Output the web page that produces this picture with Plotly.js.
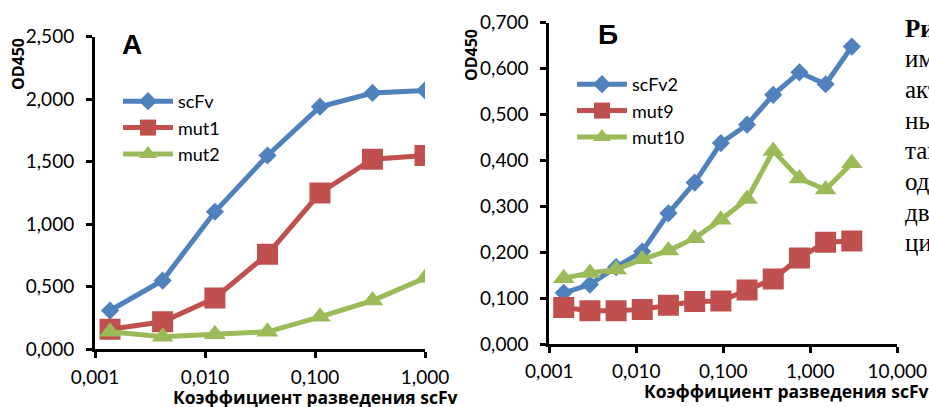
<!DOCTYPE html>
<html><head><meta charset="utf-8">
<script src="https://cdn.plot.ly/plotly-3.0.1.min.js"></script>
<style>html,body{margin:0;padding:0;background:#fff;overflow:hidden}#chart{width:929px;height:407px}</style>
</head><body><div id="chart"></div>
<script>
// Panel A data (dilution factor -> OD450)
const dilutionA = [0.00137, 0.00412, 0.0123, 0.037, 0.111, 0.333, 1.0];
const scFv = [0.31, 0.55, 1.10, 1.55, 1.94, 2.05, 2.07];
const mut1 = [0.16, 0.22, 0.41, 0.76, 1.25, 1.52, 1.55];
const mut2 = [0.14, 0.10, 0.12, 0.14, 0.26, 0.39, 0.57];
// Panel B data
const dilutionB = [0.001465, 0.00293, 0.00586, 0.0117, 0.0234, 0.0469, 0.0938, 0.1875, 0.375, 0.75, 1.5, 3.0];
const scFv2 = [0.112, 0.130, 0.168, 0.202, 0.285, 0.352, 0.438, 0.478, 0.543, 0.592, 0.566, 0.648];
const mut9 = [0.080, 0.073, 0.073, 0.076, 0.085, 0.093, 0.094, 0.118, 0.142, 0.188, 0.222, 0.225];
const mut10 = [0.144, 0.155, 0.163, 0.185, 0.204, 0.231, 0.271, 0.316, 0.421, 0.361, 0.337, 0.394];
// Tick labels
const xTickValsA = [0.001, 0.01, 0.1, 1];
const xTickTextA = ["0,001", "0,010", "0,100", "1,000"];
const xTickValsB = [0.001, 0.01, 0.1, 1, 10];
const xTickTextB = ["0,001", "0,010", "0,100", "1,000", "10,000"];
const yTickValsA = [0, 0.5, 1.0, 1.5, 2.0, 2.5];
const yTickTextA = ["0,000", "0,500", "1,000", "1,500", "2,000", "2,500"];
const yTickValsB = [0, 0.1, 0.2, 0.3, 0.4, 0.5, 0.6, 0.7];
const yTickTextB = ["0,000", "0,100", "0,200", "0,300", "0,400", "0,500", "0,600", "0,700"];
const xTitle = "Коэффициент разведения scFv";
const yTitle = "OD450";
const sideText = ["Рис.", "имм", "акт", "ны", "так", "одн", "дву", "ции"];

const W = 929, H = 407;
const px = v => v / W, py = v => 1 - v / H;
const BLUE = "#4F81BD", RED = "#C0504D", GREEN = "#9BBB59";
const tickFont = {family: "Lato, 'Open Sans', sans-serif", size: 19, color: "#000"};
const legFont = {family: "Lato, 'Open Sans', sans-serif", size: 18, color: "#000"};
const titleFont = {family: "'Open Sans', sans-serif", size: 17.5, color: "#000", weight: "bold"};

function tr(x, y, name, color, symbol, size, xa, ya, leg) {
  return {x: x, y: y, name: name, type: "scatter", mode: "lines+markers",
    xaxis: xa, yaxis: ya, legend: leg,
    line: {color: color, width: 5},
    marker: {color: color, symbol: symbol, size: size}};
}
const data = [
  tr(dilutionA, scFv, "scFv", BLUE, "diamond", 14, "x", "y", "legend"),
  tr(dilutionA, mut1, "mut1", RED, "square", 21, "x", "y", "legend"),
  tr(dilutionA, mut2, "mut2", GREEN, "triangle-up", 19, "x", "y", "legend"),
  tr(dilutionB, scFv2, "scFv2", BLUE, "diamond", 14, "x2", "y2", "legend2"),
  tr(dilutionB, mut9, "mut9", RED, "square", 21, "x2", "y2", "legend2"),
  tr(dilutionB, mut10, "mut10", GREEN, "triangle-up", 19, "x2", "y2", "legend2")
];
const axCommon = {showgrid: false, zeroline: false, showline: true, linecolor: "#000", linewidth: 3,
  ticks: "outside", ticklen: 6, tickwidth: 3, tickcolor: "#000", tickfont: tickFont, fixedrange: true};
const layout = {
  width: W, height: H, margin: {l: 0, r: 0, t: 0, b: 0},
  paper_bgcolor: "#fff", plot_bgcolor: "#fff", showlegend: true,
  xaxis: Object.assign({}, axCommon, {type: "log", domain: [px(95), px(425)], range: [-3, 0],
    tickvals: xTickValsA, ticktext: xTickTextA, anchor: "y", ticklabelstandoff: 3}),
  yaxis: Object.assign({}, axCommon, {domain: [py(349.3), py(36.7)], range: [0, 2.5],
    tickvals: yTickValsA, ticktext: yTickTextA, anchor: "x", ticklabelstandoff: 8}),
  xaxis2: Object.assign({}, axCommon, {type: "log", domain: [px(549.3), px(897.3)], range: [-3, 1],
    tickvals: xTickValsB, ticktext: xTickTextB, anchor: "y2", ticklabelstandoff: 2}),
  yaxis2: Object.assign({}, axCommon, {domain: [py(344.3), py(22.7)], range: [0, 0.7],
    tickvals: yTickValsB, ticktext: yTickTextB, anchor: "x2", ticklabelstandoff: 8}),
  legend: {x: px(118), y: py(83), xanchor: "left", yanchor: "top", bgcolor: "rgba(0,0,0,0)",
    font: legFont, itemwidth: 50, tracegroupgap: 0},
  legend2: {x: px(572), y: py(66), xanchor: "left", yanchor: "top", bgcolor: "rgba(0,0,0,0)",
    font: legFont, itemwidth: 50, tracegroupgap: 0},
  annotations: [
    {text: xTitle, x: px(315), y: py(397), font: titleFont},
    {text: xTitle, x: px(786), y: py(391), font: titleFont},
    {text: yTitle, x: px(18), y: py(64), textangle: -90,
      font: {family: "'Open Sans', sans-serif", size: 16, color: "#000", weight: "bold"}},
    {text: yTitle, x: px(471), y: py(55), textangle: -90,
      font: {family: "'Open Sans', sans-serif", size: 16, color: "#000", weight: "bold"}},
    {text: "А", x: px(132), y: py(45),
      font: {family: "'Liberation Sans', Arial, sans-serif", size: 28, color: "#000", weight: "bold"}},
    {text: "Б", x: px(608), y: py(35),
      font: {family: "'Liberation Sans', Arial, sans-serif", size: 28, color: "#000", weight: "bold"}}
  ].map(a => Object.assign({xref: "paper", yref: "paper", showarrow: false, xanchor: "center", yanchor: "middle"}, a))
};
sideText.forEach((t, i) => {
  layout.annotations.push({text: t, xref: "paper", yref: "paper", x: px(903), y: py(28 + i * 30.7),
    xanchor: "left", yanchor: "middle", showarrow: false,
    font: {family: "'Liberation Serif', 'DejaVu Serif', serif", size: 25, color: "#000", weight: i === 0 ? "bold" : "normal"}});
});
Plotly.newPlot("chart", data, layout, {displayModeBar: false, staticPlot: true});
</script></body></html>
